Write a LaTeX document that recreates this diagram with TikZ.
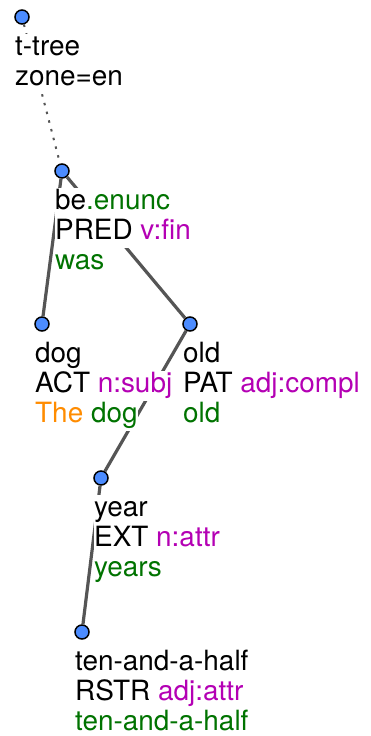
\documentclass[tikz,border=0pt]{standalone}
\usepackage{fontspec}
\setmainfont{TeX Gyre Heros}
\usepackage{tikz}
\usetikzlibrary{calc,positioning}
\definecolor{tblue}{RGB}{76,140,255}
\definecolor{tgreen}{RGB}{0,115,0}
\definecolor{tpurple}{RGB}{180,0,180}
\definecolor{torange}{RGB}{255,140,0}
\definecolor{tgray}{RGB}{85,85,85}
\newcommand{\lbox}[1]{{\setlength{\fboxsep}{0pt}\colorbox{white}{\strut #1}}}
\tikzset{
  tnode/.style = {circle, draw=black, line width=1.5pt, fill=tblue,
                  inner sep=0pt, minimum size=14pt},
  tlabel/.style = {anchor=north west, inner sep=0pt, align=left,
                   font=\fontsize{27.9}{30}\selectfont},
  tedge/.style = {line width=3.2pt, draw=tgray},
  tdots/.style = {line width=2pt, draw=tgray, dash pattern=on 2.5pt off 6.5pt},
}

\begin{document}
\begin{tikzpicture}[x=1pt,y=-1pt]
  \useasboundingbox (0,0) rectangle (370,736);
  % nodes of the tree
  \node[tnode] (root) at (22,17) {};
  \node[tnode] (be)   at (62,171) {};
  \node[tnode] (dog)  at (42,324) {};
  \node[tnode] (old)  at (190,324) {};
  \node[tnode] (year) at (101,478) {};
  \node[tnode] (ten)  at (82,632) {};
  % edges
  \draw[tdots] (root) -- (be);
  \draw[tedge] (be) -- (dog);
  \draw[tedge] (be) -- (old);
  \draw[tedge] (old) -- (year);
  \draw[tedge] (year) -- (ten);
  % labels
  \node[tlabel] (root-lab) at ([shift={(-7,17)}]root.center)
    {\lbox{t-tree}\\ \lbox{zone=en}};
  \node[tlabel] (be-lab) at ([shift={(-7,17)}]be.center)
    {\lbox{be\textcolor{tgreen}{.enunc}}\\ \lbox{PRED \textcolor{tpurple}{v:fin}}\\
     \lbox{\textcolor{tgreen}{was}}};
  \node[tlabel] (dog-lab) at ([shift={(-7,17)}]dog.center)
    {\lbox{dog}\\ \lbox{ACT \textcolor{tpurple}{n:subj}}\\
     \lbox{\textcolor{torange}{The} \textcolor{tgreen}{dog}}};
  \node[tlabel] (old-lab) at ([shift={(-7,17)}]old.center)
    {\lbox{old}\\ \lbox{PAT \textcolor{tpurple}{adj:compl}}\\
     \lbox{\textcolor{tgreen}{old}}};
  \node[tlabel] (year-lab) at ([shift={(-7,17)}]year.center)
    {\lbox{year}\\ \lbox{EXT \textcolor{tpurple}{n:attr}}\\
     \lbox{\textcolor{tgreen}{years}}};
  \node[tlabel] (ten-lab) at ([shift={(-7,17)}]ten.center)
    {\lbox{ten-and-a-half}\\ \lbox{RSTR \textcolor{tpurple}{adj:attr}}\\
     \lbox{\textcolor{tgreen}{ten-and-a-half}}};
\end{tikzpicture}
\end{document}
